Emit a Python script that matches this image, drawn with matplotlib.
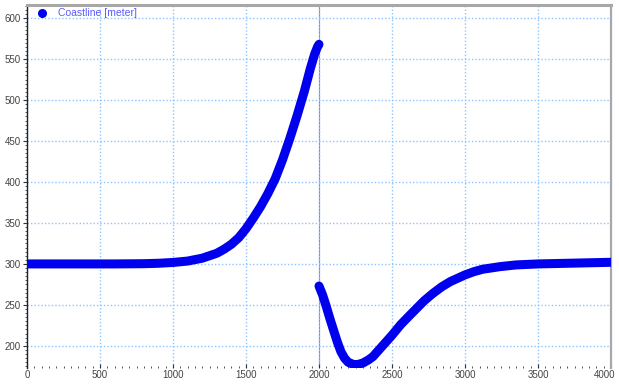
import matplotlib
matplotlib.use("Agg")
import matplotlib.pyplot as plt
import matplotlib.transforms as mtransforms
from matplotlib.ticker import MultipleLocator

# coastline position, left of the structure (x in m)
xLeft = [0, 200, 400, 600, 800, 900, 1000, 1100, 1200, 1250, 1300, 1350, 1400,
         1450, 1500, 1550, 1600, 1650, 1700, 1750, 1800, 1850, 1900, 1940,
         1970, 1990, 2000]
yLeft = [300, 300, 300, 300, 300.3, 300.8, 301.8, 303.5, 307, 310, 313, 318, 324,
         332, 343, 356, 370, 386, 404, 427, 453, 481, 511, 538,
         556, 565, 568]
# right of the structure
xRight = [2000, 2025, 2050, 2075, 2100, 2125, 2150, 2175, 2200, 2240, 2270,
          2300, 2340, 2370, 2400, 2440, 2500, 2560, 2620, 2670, 2720, 2780,
          2840, 2900, 3000, 3060, 3120, 3240, 3350, 3500, 3700, 4000]
yRight = [273, 262, 248, 233, 219, 205, 193, 185, 180, 177, 177.5,
          179, 183, 187, 193, 201, 213, 226, 237, 246, 255, 264,
          272, 278.5, 286.6, 290.5, 293.5, 296.7, 298.8, 300, 300.8, 302]
seriesLabel = "Coastline [meter]"

plt.rcParams['font.family'] = ['Liberation Sans', 'DejaVu Sans']

fig = plt.figure(figsize=(6.19, 3.87), dpi=100)
ax = fig.add_axes([27/619, 1-368/387, (611-27)/619, (368-5)/387])

ax.grid(True, which='major', color='#8cc4ff', linestyle=(0, (1, 1.5)), linewidth=1.0)
ax.axvline(2000, color='#6f8fe8', linewidth=0.8, zorder=1)

lineStyle = dict(color='#0000ee', linewidth=6.5, solid_capstyle='round',
                 solid_joinstyle='round', zorder=3)
ax.plot(xLeft, yLeft, **lineStyle)
ax.plot(xRight, yRight, **lineStyle)

ax.set_xlim(0, 4000)
ax.set_ylim(173, 616)
ax.xaxis.set_major_locator(MultipleLocator(500))
ax.xaxis.set_minor_locator(MultipleLocator(50))
ax.yaxis.set_major_locator(MultipleLocator(50))
ax.yaxis.set_minor_locator(MultipleLocator(5))
ax.tick_params(axis='both', which='major', labelsize=7, labelcolor='#444444',
               color='#333333', length=3, width=0.8, pad=1.5)
ax.tick_params(axis='both', which='minor', color='#555555', length=1.8, width=0.7)
ax.tick_params(axis='x', which='both', direction='in')

for side in ['top', 'right']:
    ax.spines[side].set_color('#a8a8a8')
ax.spines['top'].set_linewidth(2.2)
ax.spines['right'].set_linewidth(1.6)
ax.spines['left'].set_color('#222222')
ax.spines['left'].set_linewidth(1.0)
ax.spines['bottom'].set_visible(False)

# legend drawn like the original: a dot and blue text, no frame
ax.plot([100], [606], 'o', color='#0000ee', markersize=5.5, clip_on=False, zorder=4)
ax.text(210, 606, seriesLabel, color='#5a5aff', fontsize=7.5, va='center', ha='left')

# the last x label sits on the figure edge, nudge it in a little
fig.canvas.draw()
for tick in ax.xaxis.get_major_ticks():
    if abs(tick.get_loc() - 4000) < 1:
        lab = tick.label1
        lab.set_transform(lab.get_transform() +
                          mtransforms.ScaledTranslation(-6/100, 0, fig.dpi_scale_trans))

fig.savefig("out.png", dpi=100)
